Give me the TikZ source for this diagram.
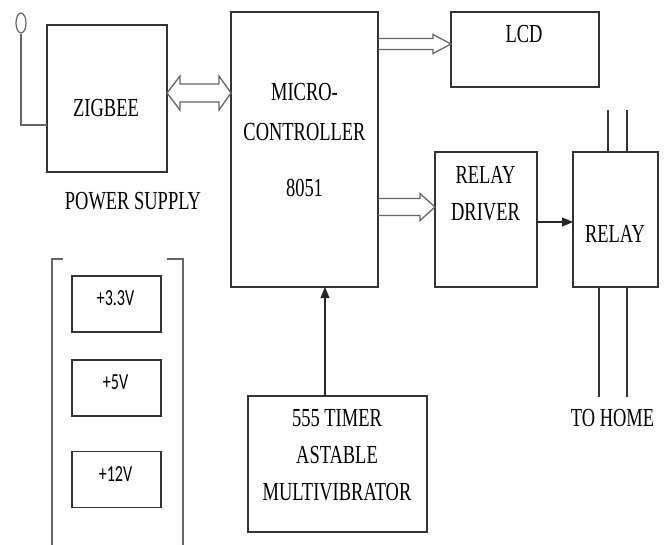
\documentclass[tikz,border=0pt]{standalone}
\usepackage{fontspec}
\setmainfont{Liberation Serif}[FakeStretch=0.71]
\newfontfamily\voltfont{Carlito}[FakeStretch=0.7]
\usetikzlibrary{arrows.meta,calc,shapes.geometric}
\tikzset{
  box/.style={draw=black!80, line width=1.1pt, inner sep=0pt, outer sep=0pt},
  txt/.style={font=\fontsize{26}{37}\selectfont, align=center, inner sep=0pt},
  volt/.style={font=\voltfont\fontsize{23}{28}\selectfont, inner sep=0pt},
  hollow/.style={draw=black!60, line width=1.3pt, line join=miter},
  arr/.style={-{Triangle[length=11pt, width=9pt]}, line width=1.1pt, draw=black!85},
  wire/.style={draw=black!80, line width=1.2pt},
  lead/.style={draw=black!60, line width=1.6pt}
}
% hollow arrow: from, tip, head length, head half width, shaft half width
\newcommand{\hollowarrow}[5]{%
  \draw[hollow] ($(#1)+(0,#5)$) -- ($(#2)+(-#3,#5)$) -- ($(#2)+(-#3,#4)$) -- (#2)
    -- ($(#2)+(-#3,-#4)$) -- ($(#2)+(-#3,-#5)$) -- ($(#1)+(0,-#5)$);}

\begin{document}
\begin{tikzpicture}[x=1pt, y=-1pt]
  \useasboundingbox (0,0) rectangle (668,544);

  % blocks
  \node[box, minimum width=120pt, minimum height=147pt] (zigbee) at (107,98.5) {};
  \node[box, minimum width=147pt, minimum height=275pt] (mcu) at (304.5,149.5) {};
  \node[box, minimum width=148pt, minimum height=75pt] (lcd) at (525,49.5) {};
  \node[box, minimum width=102pt, minimum height=135pt] (driver) at (486,219.5) {};
  \node[box, minimum width=85pt, minimum height=135pt] (relay) at (615.5,219.5) {};
  \node[box, minimum width=179pt, minimum height=136pt] (timer) at (337.5,464) {};

  \node[txt] (zigbeelbl) at (106,108.5) {ZIGBEE};
  \node[txt] (mculbl) at (304.5,112) {MICRO-\\[3pt]CONTROLLER};
  \node[txt] (mcunum) at (304.5,188) {8051};
  \node[txt] (lcdlbl) at (524,34) {LCD};
  \node[txt] (driverlbl) at (485.5,193.5) {RELAY\\DRIVER};
  \node[txt] (relaylbl) at (615,234) {RELAY};
  \node[txt] (timerlbl) at (337,455) {555 TIMER\\ASTABLE\\MULTIVIBRATOR};
  \node[txt] (homelbl) at (612.5,418) {TO HOME};
  \node[txt] (supplylbl) at (133,201) {POWER SUPPLY};

  % power supply
  \draw[lead] (63,259) -| (52,548);
  \draw[lead] (167,259) -| (183,548);
  \foreach \v/\y [count=\i] in {+3.3V/304, +5V/388, +12V/479.5} {
    \node[box, minimum width=89pt, minimum height=56pt] (volt\i) at (116.5,\y) {};
    \node[volt] (voltlbl\i) at (115.5,\y-5.5) {\v};
  }

  % antenna
  \node[ellipse, draw=black!60, line width=1.2pt, inner sep=0pt, minimum width=10pt, minimum height=20pt] (ant) at (21,23) {};
  \coordinate (zin) at (zigbee.west |- 0,125);
  \draw[lead] (ant.south) |- (zin);

  % buses
  \coordinate (zout) at (zigbee.east |- 0,93);
  \coordinate (mcuin) at (mcu.west |- zout);
  \draw[hollow] (zout) -- ($(zout)+(13,-17)$) -- ($(zout)+(13,-9)$) -- ($(mcuin)+(-12,-9)$)
    -- ($(mcuin)+(-12,-17)$) -- (mcuin) -- ($(mcuin)+(-12,17)$) -- ($(mcuin)+(-12,9)$)
    -- ($(zout)+(13,9)$) -- ($(zout)+(13,17)$) -- cycle;
  \coordinate (lcdout) at (mcu.east |- 0,44);
  \coordinate (lcdin) at (lcd.west |- lcdout);
  \hollowarrow{lcdout}{lcdin}{18}{9.5}{5.5}
  \coordinate (drvout) at (mcu.east |- 0,207);
  \coordinate (drvin) at (driver.west |- drvout);
  \hollowarrow{drvout}{drvin}{15}{13.5}{8.5}

  % signals
  \draw[arr] ([yshift=-2.5pt]driver.east) -- ([yshift=-2.5pt]relay.west);
  \coordinate (tup) at ([xshift=-12.5pt]timer.north);
  \draw[arr] (tup) -- (tup |- mcu.south);

  % relay contacts
  \foreach \dx in {-7.5,11.5}
    \draw[wire] ([xshift=\dx pt]relay.north) -- ++(0,-42);
  \foreach \dx in {-16.5,11.5}
    \draw[wire] ([xshift=\dx pt]relay.south) -- ++(0,110);
\end{tikzpicture}
\end{document}
